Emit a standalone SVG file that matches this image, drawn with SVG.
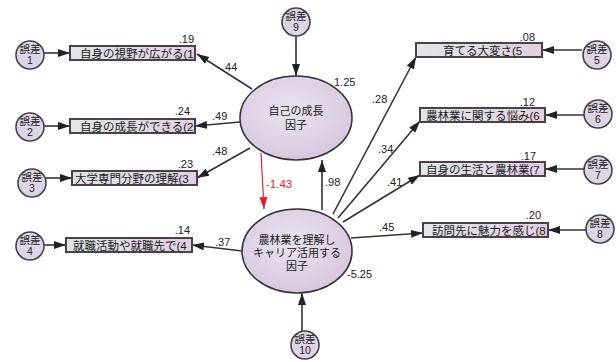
<svg xmlns="http://www.w3.org/2000/svg" width="616" height="362" viewBox="0 0 616 362">
<defs>
<linearGradient id="gr" x1="0" y1="0" x2="1" y2="0"><stop offset="0" stop-color="#dfe6ea"/><stop offset="1" stop-color="#e3cfe2"/></linearGradient>
<radialGradient id="ge" cx="0.45" cy="0.4" r="0.65"><stop offset="0" stop-color="#e8e3f0"/><stop offset="0.7" stop-color="#dccfe3"/><stop offset="1" stop-color="#d6c4da"/></radialGradient>
<marker id="ah" viewBox="0 0 12 8" refX="12" refY="4" markerWidth="12" markerHeight="8" markerUnits="userSpaceOnUse" orient="auto"><path d="M0,0 L12,4 L0,8 Z" fill="#222"/></marker>
<marker id="ahr" viewBox="0 0 12 8" refX="12" refY="4" markerWidth="12" markerHeight="8" markerUnits="userSpaceOnUse" orient="auto"><path d="M0,0 L12,4 L0,8 Z" fill="#e8202a"/></marker>
</defs>
<style>
.r{fill:url(#gr);stroke:#4a4048;stroke-width:2}
.e{fill:url(#ge);stroke:#3a3238;stroke-width:1.6}
.c{fill:#ddd4e6;stroke:#4a4048;stroke-width:1.6}
.t{font-family:"Liberation Sans","Noto Sans CJK JP",sans-serif;fill:#222}
.bt{font-size:11.5px}
.et{font-size:11px}
.ct{font-size:10.5px}
.n{font-size:11px}
.l{stroke:#333;stroke-width:1.6;fill:none;marker-end:url(#ah)}
.red{stroke:#e8202a;stroke-width:1.2;fill:none;marker-end:url(#ahr)}
</style>
<rect width="616" height="362" fill="#ffffff"/>

<g id="connectors">
<line class="l" x1="44" y1="53" x2="70" y2="53"/>
<line class="l" x1="44" y1="126" x2="70" y2="126"/>
<line class="l" x1="46" y1="178" x2="72" y2="178"/>
<line class="l" x1="44" y1="245" x2="66" y2="245"/>
<line class="l" x1="582" y1="50" x2="542" y2="50"/>
<line class="l" x1="584" y1="115" x2="545" y2="115"/>
<line class="l" x1="584" y1="169" x2="545" y2="169"/>
<line class="l" x1="586" y1="230" x2="548" y2="230"/>
<line class="l" x1="252" y1="89" x2="197" y2="54"/>
<line class="l" x1="240" y1="122" x2="195" y2="126"/>
<line class="l" x1="250" y1="148" x2="197" y2="178"/>
<line class="red" x1="261" y1="153" x2="264" y2="209"/>
<line class="l" x1="322" y1="210" x2="322" y2="160"/>
<line class="l" x1="242" y1="251" x2="192" y2="245"/>
<line class="l" x1="333" y1="214" x2="416" y2="57"/>
<line class="l" x1="338" y1="218" x2="420" y2="121"/>
<line class="l" x1="343" y1="222" x2="420" y2="175"/>
<line class="l" x1="351" y1="238" x2="423" y2="233"/>
<line class="l" x1="296" y1="36" x2="296" y2="76"/>
<line class="l" x1="302" y1="331" x2="302" y2="293"/>
</g>

<g id="f1"><ellipse class="e" cx="296" cy="118" rx="56" ry="42"/><text class="t et" text-anchor="middle" x="296" y="115">自己の成長</text><text class="t et" text-anchor="middle" x="296" y="129">因子</text></g>
<g id="f2"><ellipse class="e" cx="297" cy="251" rx="55" ry="42"/><text class="t et" text-anchor="middle" x="297" y="244">農林業を理解し</text><text class="t et" text-anchor="middle" x="297" y="257">キャリア活用する</text><text class="t et" text-anchor="middle" x="297" y="270">因子</text></g>

<g id="v1"><rect class="r" x="70" y="46" width="125" height="14"/><text class="t bt" x="80" y="57.5">自身の視野が広がる(1</text></g>
<g id="v2"><rect class="r" x="70" y="119" width="125" height="14"/><text class="t bt" x="80" y="130.5">自身の成長ができる(2</text></g>
<g id="v3"><rect class="r" x="72" y="171" width="125" height="14"/><text class="t bt" x="75" y="182.5">大学専門分野の理解(3</text></g>
<g id="v4"><rect class="r" x="66" y="238" width="126" height="14"/><text class="t bt" x="73" y="249.5">就職活動や就職先で(4</text></g>
<g id="v5"><rect class="r" x="416" y="43" width="126" height="14"/><text class="t bt" x="443" y="54.5">育てる大変さ(5</text></g>
<g id="v6"><rect class="r" x="420" y="108" width="125" height="14"/><text class="t bt" x="426" y="119.5">農林業に関する悩み(6</text></g>
<g id="v7"><rect class="r" x="420" y="162" width="125" height="14"/><text class="t bt" x="426" y="173.5">自身の生活と農林業(7</text></g>
<g id="v8"><rect class="r" x="423" y="223" width="125" height="14"/><text class="t bt" x="432" y="234.5">訪問先に魅力を感じ(8</text></g>

<g id="e1"><circle class="c" cx="30" cy="55" r="14"/><text class="t ct" text-anchor="middle" x="30" y="53">誤差</text><text class="t ct" text-anchor="middle" x="30" y="64">1</text></g>
<g id="e2"><circle class="c" cx="30" cy="127" r="14"/><text class="t ct" text-anchor="middle" x="30" y="125">誤差</text><text class="t ct" text-anchor="middle" x="30" y="136">2</text></g>
<g id="e3"><circle class="c" cx="32" cy="183" r="14"/><text class="t ct" text-anchor="middle" x="32" y="181">誤差</text><text class="t ct" text-anchor="middle" x="32" y="192">3</text></g>
<g id="e4"><circle class="c" cx="30" cy="246" r="14"/><text class="t ct" text-anchor="middle" x="30" y="244">誤差</text><text class="t ct" text-anchor="middle" x="30" y="255">4</text></g>
<g id="e5"><circle class="c" cx="597" cy="55" r="14"/><text class="t ct" text-anchor="middle" x="597" y="53">誤差</text><text class="t ct" text-anchor="middle" x="597" y="64">5</text></g>
<g id="e6"><circle class="c" cx="598" cy="114" r="14"/><text class="t ct" text-anchor="middle" x="598" y="112">誤差</text><text class="t ct" text-anchor="middle" x="598" y="123">6</text></g>
<g id="e7"><circle class="c" cx="598" cy="170" r="14"/><text class="t ct" text-anchor="middle" x="598" y="168">誤差</text><text class="t ct" text-anchor="middle" x="598" y="179">7</text></g>
<g id="e8"><circle class="c" cx="600" cy="229" r="14"/><text class="t ct" text-anchor="middle" x="600" y="227">誤差</text><text class="t ct" text-anchor="middle" x="600" y="238">8</text></g>
<g id="e9"><circle class="c" cx="296" cy="22" r="14"/><text class="t ct" text-anchor="middle" x="296" y="20">誤差</text><text class="t ct" text-anchor="middle" x="296" y="31">9</text></g>
<g id="e10"><circle class="c" cx="305" cy="345" r="14"/><text class="t ct" text-anchor="middle" x="305" y="343">誤差</text><text class="t ct" text-anchor="middle" x="305" y="354">10</text></g>

<g id="labels">
<text class="t n" x="222" y="71">.44</text>
<text class="t n" x="212" y="120">.49</text>
<text class="t n" x="212" y="155">.48</text>
<text class="t n" x="266" y="188" style="fill:#e8202a;font-size:11.5px">-1.43</text>
<text class="t n" x="325" y="186">.98</text>
<text class="t n" x="215" y="246">.37</text>
<text class="t n" x="372" y="103">.28</text>
<text class="t n" x="378" y="153">.34</text>
<text class="t n" x="387" y="186">.41</text>
<text class="t n" x="379" y="231">.45</text>
<text class="t n" x="334" y="86">1.25</text>
<text class="t n" x="347" y="278">-5.25</text>
<text class="t n" text-anchor="end" x="194" y="43">.19</text>
<text class="t n" text-anchor="end" x="190" y="115">.24</text>
<text class="t n" text-anchor="end" x="193" y="168">.23</text>
<text class="t n" text-anchor="end" x="190" y="234">.14</text>
<text class="t n" text-anchor="end" x="535" y="41">.08</text>
<text class="t n" text-anchor="end" x="535" y="106">.12</text>
<text class="t n" text-anchor="end" x="536" y="160">.17</text>
<text class="t n" text-anchor="end" x="541" y="219">.20</text>
</g>
</svg>
